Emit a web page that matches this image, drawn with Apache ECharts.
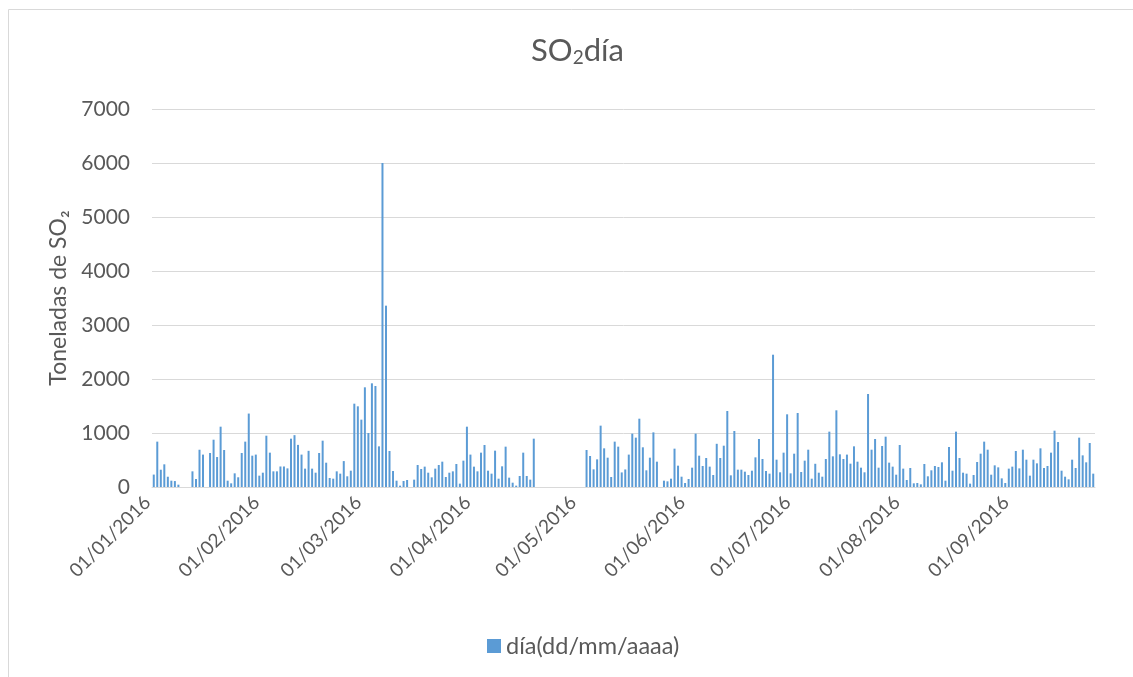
<!DOCTYPE html>
<html>
<head>
<meta charset="utf-8">
<script src="https://cdn.jsdelivr.net/npm/echarts@6/dist/echarts.min.js"></script>
<style>
  html, body { margin: 0; padding: 0; background: #fff; }
  #chart { width: 1133px; height: 677px; }
</style>
</head>
<body>
<div id="chart"></div>
<script>
// toneladas de SO2 por dia, 2016
const ene = [230, 840, 320, 420, 190, 117, 110, 43, 0, 0, 0, 290, 148, 690, 600, 0, 630, 876, 555, 1117, 685, 117, 68, 253, 180, 630, 840, 1360, 580, 600, 210];
const feb = [265, 950, 636, 290, 290, 380, 380, 345, 895, 960, 780, 600, 340, 670, 340, 265, 630, 858, 450, 167, 154, 290, 247, 480, 198, 302, 1543, 1494, 1247];
const mar = [1846, 1000, 1920, 1870, 753, 6000, 3358, 667, 296, 117, 25, 111, 130, 0, 136, 407, 333, 377, 265, 179, 340, 407, 469, 185, 265, 290, 426, 62, 488, 1117, 600];
const abr = [377, 290, 636, 778, 302, 247, 673, 154, 383, 747, 173, 80, 25, 204, 636, 204, 136, 895, 0, 0, 0, 0, 0, 0, 0, 0, 0, 0, 0, 0];
const may = [0, 0, 685, 574, 327, 512, 1136, 716, 543, 185, 840, 747, 270, 325, 600, 988, 914, 1265, 735, 309, 543, 1012, 469, 0, 117, 105, 154, 710, 395, 191, 74];
const jun = [148, 358, 988, 580, 389, 537, 377, 222, 800, 537, 765, 1407, 216, 1037, 321, 321, 284, 222, 302, 549, 889, 519, 296, 247, 2450, 506, 272, 636, 1346, 253];
const jul = [617, 1370, 278, 488, 691, 154, 430, 265, 191, 519, 1025, 568, 1420, 605, 519, 600, 432, 753, 469, 358, 272, 1722, 691, 889, 358, 759, 932, 451, 377, 228, 778];
const ago = [340, 130, 352, 68, 74, 49, 426, 198, 309, 389, 370, 457, 117, 741, 302, 1025, 537, 265, 247, 62, 222, 463, 617, 840, 691, 228, 401, 364, 160, 74, 340];
const sep = [377, 667, 345, 691, 506, 210, 506, 438, 716, 352, 389, 636, 1043, 833, 302, 191, 142, 506, 352, 914, 586, 457, 815, 247];

const meses = [['01', ene], ['02', feb], ['03', mar], ['04', abr], ['05', may], ['06', jun], ['07', jul], ['08', ago], ['09', sep]];
const yTicks = [0, 1000, 2000, 3000, 4000, 5000, 6000, 7000];

const dias = [];
const valores = [];
meses.forEach(([mm, arr]) => {
  arr.forEach((v, i) => {
    dias.push(String(i + 1).padStart(2, '0') + '/' + mm + '/2016');
    valores.push(v);
  });
});

const font = 'Lato, "Open Sans", sans-serif';
const gris = '#595959';

const chart = echarts.init(document.getElementById('chart'));
chart.setOption({
  animation: false,
  graphic: [{
    type: 'rect',
    shape: { x: 8.5, y: 9.5, width: 1140, height: 700 },
    style: { fill: 'none', stroke: '#d9d9d9', lineWidth: 1 },
    silent: true
  }],
  title: {
    text: 'SO{sub|2}día',
    left: 526,
    top: 30,
    textStyle: {
      fontFamily: font, fontSize: 31, fontWeight: 'normal', color: gris,
      rich: { sub: { fontFamily: font, fontSize: 19, color: gris, padding: [13, 0, 0, 0] } }
    }
  },
  legend: {
    bottom: 14,
    left: 482,
    icon: 'rect',
    itemWidth: 14,
    itemHeight: 14,
    itemGap: 6,
    textStyle: { fontFamily: font, fontSize: 23.5, color: gris },
    data: ['día(dd/mm/aaaa)']
  },
  grid: { left: 152, right: 38, top: 109, bottom: 190, containLabel: false },
  xAxis: {
    type: 'category',
    data: dias,
    axisLine: { lineStyle: { color: '#d9d9d9' } },
    axisTick: { show: false },
    axisLabel: {
      interval: (i, v) => v.startsWith('01/'),
      rotate: 45,
      margin: 6,
      padding: [0, 9, 0, 0],
      fontFamily: font,
      fontSize: 19,
      color: gris
    }
  },
  yAxis: {
    type: 'value',
    min: yTicks[0],
    max: yTicks[yTicks.length - 1],
    interval: 1000,
    name: 'Toneladas de SO₂',
    nameLocation: 'middle',
    nameGap: 78,
    nameTextStyle: { fontFamily: font, fontSize: 23, color: gris },
    axisLine: { show: false },
    axisTick: { show: false },
    splitLine: { lineStyle: { color: '#d9d9d9' } },
    axisLabel: { fontFamily: font, fontSize: 21, color: gris, margin: 22, formatter: (v) => String(v) }
  },
  series: [{
    name: 'día(dd/mm/aaaa)',
    type: 'bar',
    data: valores,
    barWidth: 2,
    itemStyle: { color: '#5B9BD5' }
  }]
});
</script>
</body>
</html>
